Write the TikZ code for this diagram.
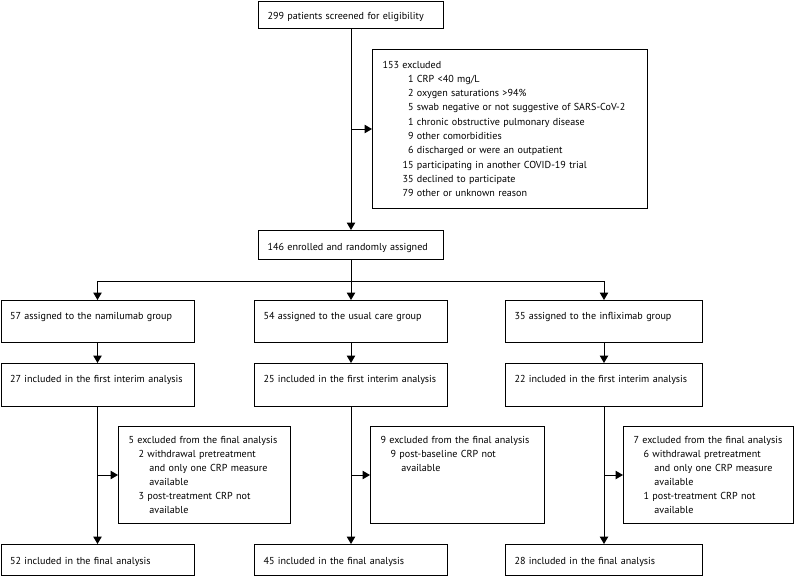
\documentclass[tikz,border=0pt]{standalone}
\usepackage{fontspec}
\setmainfont{PT Sans}
\usetikzlibrary{positioning,calc,arrows.meta}
\tikzset{
box/.style={
  draw,
  line width=1pt,
  anchor=north west,
  align=left,
  inner xsep=9pt,
  inner ysep=4pt,
  text height=14.5pt,
  font=\fontsize{10.1}{14.3}\selectfont
  },
exclbox/.style={
  box,
  inner xsep=10pt,
  text height=12.5pt,
  text depth=76.5pt,
  font=\fontsize{10.1}{14.1}\selectfont
  },
arrow/.style={-{Triangle[length=7.5pt,width=8.5pt]}, line width=1pt},
line/.style={line width=1pt},
}

\begin{document}
\begin{tikzpicture}[x=1pt,y=-1pt]
    \useasboundingbox (0,0) rectangle (794,576);
    \node [box, text width=167pt, text height=13.5pt, text depth=5.5pt] (screen) at (258,1)
        {\mbox{299 patients screened for eligibility}};
    \node [box, inner xsep=10pt, text width=255pt, text depth=136.5pt] (excl) at (372,49)
    {%
        \begin{tabular}[t]{@{\hspace{20pt}}r@{ }l}
            \multicolumn{2}{@{}l}{153 excluded}\\
            1 & CRP <40 mg/L\\
            2 & oxygen saturations >94\%\\
            5 & swab negative or not suggestive of SARS-CoV-2\\
            1 & chronic obstructive pulmonary disease\\
            9 & other comorbidities\\
            6 & discharged or were an outpatient\\
            15 & participating in another COVID-19 trial\\
            35 & declined to participate\\
            79 & other or unknown reason
        \end{tabular}%
    };
    \node [box, text width=167pt, text height=15.5pt, text depth=5.5pt] (enrol) at (258,230)
        {\mbox{146 enrolled and randomly assigned}};
    \coordinate (split) at ($(enrol.south)+(0,21)$);

    \draw [arrow] (screen) -- (enrol);
    \draw [arrow] (screen.south |- excl.west) -- (excl.west);

    % three arms
    \foreach \grp/\x/\w/\na/\nb/\nc in {
        nami/0.5/193/57 assigned to the namilumab group/27 included in the first interim analysis/52 included in the final analysis,
        usual/254/193/54 assigned to the usual care group/25 included in the first interim analysis/45 included in the final analysis,
        infl/505/197/35 assigned to the infliximab group/22 included in the first interim analysis/28 included in the final analysis}
    {
        \pgfmathsetmacro\tw{\w-18}
        \node [box, text width=\tw pt, text depth=19.5pt] (\grp-assign) at (\x,300) {\mbox{\na}};
        \node [box, text width=\tw pt, text depth=20.5pt] (\grp-interim) at (\x,363) {\mbox{\nb}};
        \node [box, text width=\tw pt, text height=15.5pt, text depth=7.5pt] (\grp-final) at (\x,544) {\mbox{\nc}};
        \draw [arrow] (\grp-assign) -- (\grp-interim);
        \draw [arrow] (\grp-interim) -- (\grp-final);
    }

    \draw [line] (enrol) -- (split);
    \draw [arrow] (split) -| (nami-assign.north);
    \draw [arrow] (split) -- (usual-assign.north);
    \draw [arrow] (split) -| (infl-assign.north);

    \node [exclbox, text width=152pt] (nami-excl) at (118,426)
    {%
        \begin{tabular}[t]{@{\hspace{10pt}}r@{ }l}
            \multicolumn{2}{@{}l}{5 excluded from the final analysis}\\
            2 & withdrawal pretreatment\\
              & \hspace{2pt}and only one CRP measure\\
              & \hspace{2pt}available\\
            3 & post-treatment CRP not\\
              & \hspace{2pt}available
        \end{tabular}%
    };
    \node [exclbox, text width=154pt] (usual-excl) at (370,426)
    {%
        \begin{tabular}[t]{@{\hspace{10pt}}r@{ }l}
            \multicolumn{2}{@{}l}{9 excluded from the final analysis}\\
            9 & post-baseline CRP not\\
              & \hspace{2pt}available
        \end{tabular}%
    };
    \node [exclbox, text width=150pt] (infl-excl) at (623,426)
    {%
        \begin{tabular}[t]{@{\hspace{10pt}}r@{ }l}
            \multicolumn{2}{@{}l}{7 excluded from the final analysis}\\
            6 & withdrawal pretreatment\\
              & \hspace{2pt}and only one CRP measure\\
              & \hspace{2pt}available\\
            1 & post-treatment CRP not\\
              & \hspace{2pt}available
        \end{tabular}%
    };
    \foreach \grp in {nami, usual, infl}
        \draw [arrow] (\grp-interim.south |- \grp-excl.west) -- (\grp-excl.west);
\end{tikzpicture}
\end{document}
